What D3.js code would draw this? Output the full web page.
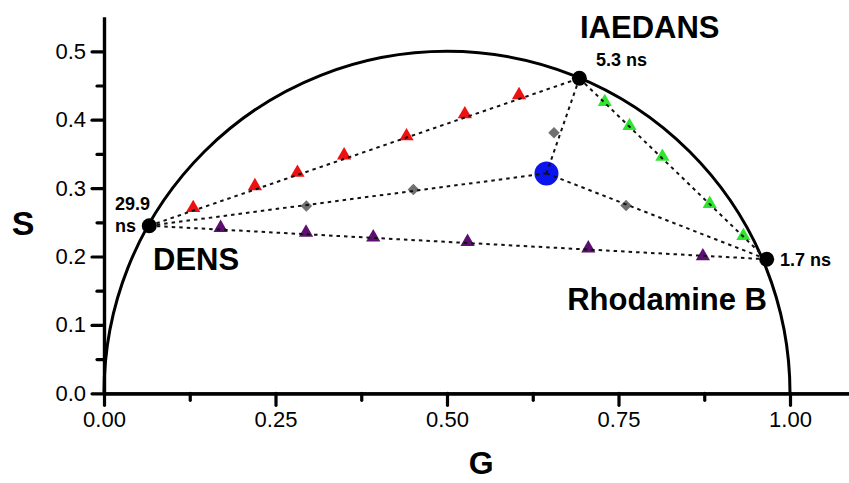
<!DOCTYPE html>
<html>
<head>
<meta charset="utf-8">
<script src="https://cdn.jsdelivr.net/npm/d3@7"></script>
<style>
  html, body { margin: 0; padding: 0; background: #ffffff; }
  svg { display: block; font-family: "Liberation Sans", Arial, sans-serif; }
</style>
</head>
<body>
<svg id="chart" width="849" height="483"></svg>
<script>
// ---- data ----
const xTicks = [0.00, 0.25, 0.50, 0.75, 1.00];
const xMinorTicks = [0.125, 0.375, 0.625, 0.875];
const yTicks = [0.0, 0.1, 0.2, 0.3, 0.4, 0.5];
const yMinorTicks = [0.05, 0.15, 0.25, 0.35, 0.45];

// pure-dye phasors [G, S]
const dyeNames = ["DENS", "IAEDANS", "Rhodamine B"];
const dyeLifetimes = ["29.9 ns", "5.3 ns", "1.7 ns"];
const dyePoints = [[0.066, 0.245], [0.693, 0.4605], [0.966, 0.196]];

// mixture phasor (blue)
const mixPoint = [0.645, 0.3215];

// DENS + IAEDANS mixtures (red)
const redPoints = [[0.130, 0.271], [0.220, 0.303], [0.282, 0.3225], [0.350, 0.348],
                   [0.441, 0.376], [0.526, 0.408], [0.605, 0.436]];
// IAEDANS + Rhodamine B mixtures (green)
const greenPoints = [[0.730, 0.426], [0.766, 0.391], [0.814, 0.346], [0.883, 0.277], [0.932, 0.230]];
// DENS + Rhodamine B mixtures (purple)
const purplePoints = [[0.170, 0.242], [0.2945, 0.235], [0.3925, 0.228], [0.530, 0.2215],
                      [0.706, 0.212], [0.873, 0.2005]];
// fractional components toward the mixture (gray)
const grayPoints = [[0.295, 0.274], [0.451, 0.298], [0.656, 0.381], [0.761, 0.2745]];

// ---- layout ----
const svg = d3.select("#chart");
const x = d3.scaleLinear().domain([0, 1.1]).range([104, 104 + 1.1 * 686]);
const y = d3.scaleLinear().domain([0, 0.55]).range([393.3, 393.3 - 0.55 * 684]);

// universal semicircle
svg.append("path")
  .attr("d", `M${x(0)},${y(0)} A${(x(1) - x(0)) / 2},${y(0) - y(0.5)} 0 0 1 ${x(1)},${y(0)}`)
  .attr("fill", "none").attr("stroke", "#000").attr("stroke-width", 3);

// markers
const triangle = d3.symbol().type(d3.symbolTriangle).size(88);
const diamond = d3.symbol().type(d3.symbolSquare).size(66);

function tris(data, color) {
  svg.append("g").selectAll("path").data(data).join("path")
    .attr("d", triangle)
    .attr("transform", d => `translate(${x(d[0])},${y(d[1])})`)
    .attr("fill", color);
}
tris(redPoints, "#ee1111");
tris(greenPoints, "#2ee62e");
tris(purplePoints, "#5c0f6e");

svg.append("g").selectAll("path").data(grayPoints).join("path")
  .attr("d", diamond)
  .attr("transform", d => `translate(${x(d[0])},${y(d[1])}) rotate(45)`)
  .attr("fill", "#707070");

svg.append("circle")
  .attr("cx", x(mixPoint[0])).attr("cy", y(mixPoint[1])).attr("r", 12)
  .attr("fill", "#0a14ee");

// dotted connecting lines (drawn on top like the original)
const segs = [
  [dyePoints[0], dyePoints[1]],
  [dyePoints[1], dyePoints[2]],
  [dyePoints[0], dyePoints[2]],
  [dyePoints[0], mixPoint],
  [dyePoints[1], mixPoint],
  [mixPoint, dyePoints[2]]
];
svg.append("g").selectAll("line").data(segs).join("line")
  .attr("x1", d => x(d[0][0])).attr("y1", d => y(d[0][1]))
  .attr("x2", d => x(d[1][0])).attr("y2", d => y(d[1][1]))
  .attr("stroke", "#111").attr("stroke-width", 2)
  .attr("stroke-dasharray", "3.5,4");

// pure dye points
svg.append("g").selectAll("circle").data(dyePoints).join("circle")
  .attr("cx", d => x(d[0])).attr("cy", d => y(d[1])).attr("r", 7.5)
  .attr("fill", "#000");

// ---- axes ----
function styleAxis(g) {
  g.select(".domain").attr("stroke", "#000").attr("stroke-width", 3.2);
  g.selectAll(".tick line").attr("stroke", "#000").attr("stroke-width", 3.2)
    .attr("stroke-linecap", "round");
  g.selectAll(".tick text").attr("fill", "#000").attr("font-size", 22)
    .attr("font-family", "Liberation Sans, Arial, sans-serif");
}
const xAxis = svg.append("g").attr("transform", `translate(0,${y(0)})`)
  .call(d3.axisBottom(x).tickValues(xTicks).tickFormat(d3.format(".2f"))
    .tickSize(12).tickSizeOuter(0).tickPadding(6));
styleAxis(xAxis);
const xMinor = svg.append("g").attr("transform", `translate(0,${y(0)})`)
  .call(d3.axisBottom(x).tickValues(xMinorTicks).tickFormat("").tickSize(7).tickSizeOuter(0));
styleAxis(xMinor);

const yAxis = svg.append("g").attr("transform", `translate(${x(0)},0)`)
  .call(d3.axisLeft(y).tickValues(yTicks).tickFormat(d3.format(".1f"))
    .tickSize(12).tickSizeOuter(0).tickPadding(6));
styleAxis(yAxis);
const yMinor = svg.append("g").attr("transform", `translate(${x(0)},0)`)
  .call(d3.axisLeft(y).tickValues(yMinorTicks).tickFormat("").tickSize(7).tickSizeOuter(0));
styleAxis(yMinor);

// axis titles
svg.append("text").attr("x", (x(0) + x(1.1)) / 2).attr("y", 474)
  .attr("text-anchor", "middle").attr("font-weight", "bold").attr("font-size", 32)
  .text("G");
svg.append("text").attr("x", 23).attr("y", 235)
  .attr("text-anchor", "middle").attr("font-weight", "bold").attr("font-size", 34)
  .text("S");

// ---- labels ----
const big = 31, small = 18;
svg.append("text").attr("x", 580).attr("y", 38).attr("font-weight", "bold")
  .attr("font-size", big).text(dyeNames[1]);
svg.append("text").attr("x", 153).attr("y", 270).attr("font-weight", "bold")
  .attr("font-size", big).text(dyeNames[0]);
svg.append("text").attr("x", 767).attr("y", 310).attr("text-anchor", "end")
  .attr("font-weight", "bold").attr("font-size", big).text(dyeNames[2]);

svg.append("text").attr("x", 596).attr("y", 66).attr("font-weight", "bold")
  .attr("font-size", small).text(dyeLifetimes[1]);
svg.append("text").attr("x", 780).attr("y", 266).attr("font-weight", "bold")
  .attr("font-size", small).text(dyeLifetimes[2]);
const dl = dyeLifetimes[0].split(" ");
svg.append("text").attr("x", 115).attr("y", 210).attr("font-weight", "bold")
  .attr("font-size", small).text(dl[0]);
svg.append("text").attr("x", 115).attr("y", 232).attr("font-weight", "bold")
  .attr("font-size", small).text(dl[1]);
</script>
</body>
</html>
